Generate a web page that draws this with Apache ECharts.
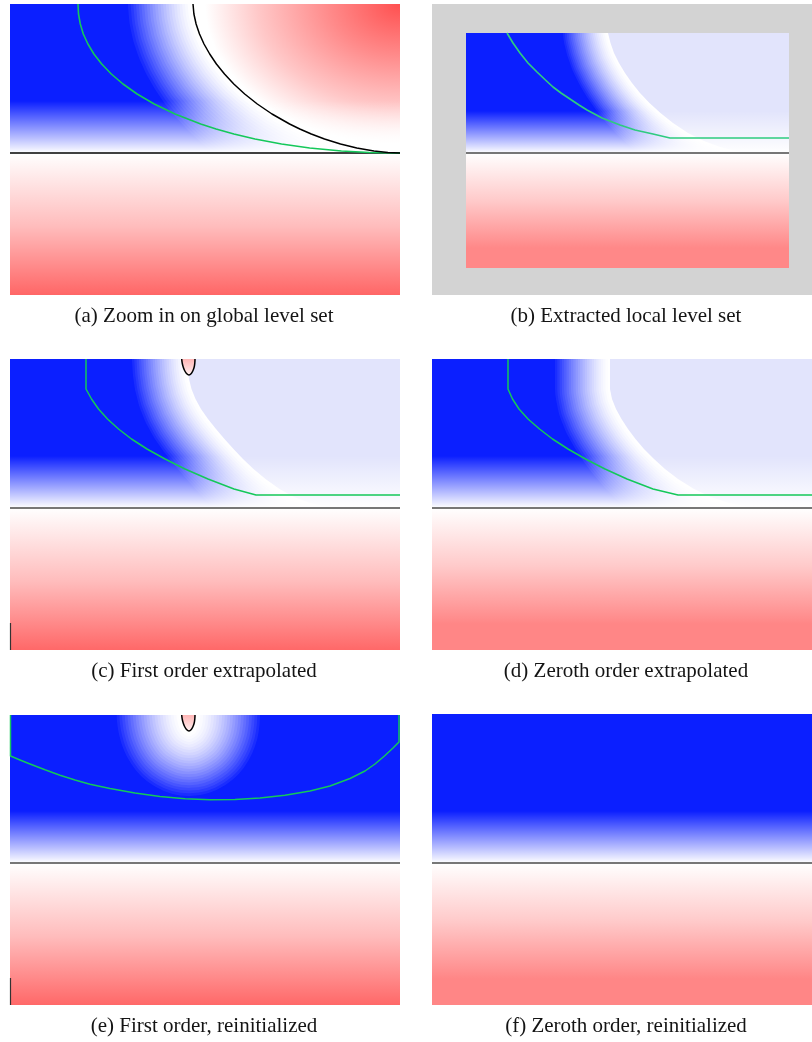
<!DOCTYPE html>
<html>
<head>
<meta charset="utf-8">
<script src="https://cdn.jsdelivr.net/npm/echarts@6/dist/echarts.min.js"></script>
<style>
  html, body { margin: 0; padding: 0; background: #ffffff; }
  #chart { width: 812px; height: 1042px; }
</style>
</head>
<body>
<div id="chart"></div>
<script>
// Axis ranges of the six level-set views (field units: 1 unit ~ 1 px of the left column)
const panelXMax = [390, 323, 390, 380, 390, 380];
const panelYMin = [-142, -115, -142, -142, -142, -142];
const panelYMax = [149, 120, 149, 149, 148, 149];

// Height of the blue ramp above the flat interface (phi = 0 at y = 0)
const zeroRamp = [52, 42, 52, 52, 52, 52];
// Depth below the interface where the positive side saturates (null: no cut-off)
const redSaturation = [null, -91, null, -112, null, -112];
// Half-width of the ramp beside curved contours
const curveRamp = [65, 45, 55, 55, 65, 0];

// (a) global level set: curved zero contour and narrow-band edge
const aInterface = [[183,149],[183.9,139],[186.1,129],[189.5,119],[194,109],[199.7,99],[206.4,89],[214.5,79],[223.8,69],[234.7,59],[247.3,49],[262,39],[279.6,29],[289.8,24],[301.3,19],[314.5,14],[330.5,9],[346.8,5],[363.9,2],[377.9,0.5],[390,0]];
const aBandEdge = [[68,149],[68.5,139],[70.3,129],[73.3,119],[77.9,109],[83.9,99],[91.7,89],[101.3,79],[113,69],[127.1,59],[144.2,49],[165,39],[190.7,29],[206.1,24],[223.9,19],[245,14],[271.5,9],[299.7,5],[331.4,2],[359.6,0.5],[390,0]];

// (b) extracted local level set: edge of the constant plateau and band edge
const bPlateau = [[142,120],[144.5,110],[148,100],[153,90],[159,80],[166,70],[174,60],[183.5,50],[194.5,40],[207,30],[222,20],[238,12],[254,6],[270,2],[285,0]];
const bBandEdge = [[41,120],[47,110],[54,100],[62,90],[71,81],[80.5,72],[87,66],[95,60],[104,54],[113,48],[121,43],[136,35],[154,28],[169,23],[187,19],[204,15],[323,15]];

// (c) first order extrapolated
const cPlateau = [[177,149],[177.6,139],[179,129],[181.5,119],[185.5,109],[191,99],[198,89],[206,79],[214.5,69],[223.5,59],[233,49],[243.5,39],[255.5,29],[269.5,19],[284,11],[300,5],[318,1],[330,0]];
const cBandEdge = [[76,149],[76,119],[81.5,109],[88.5,99],[97.5,89],[108.5,79],[121.5,69],[137,59],[155,49],[175,39],[198,29],[224,19],[246,13],[390,13]];
const cDrop = [[171.7,149],[172.2,145],[173.2,141],[174.6,137.5],[176.5,134.5],[179,133],[181.3,134.5],[183,137.5],[184.2,141],[184.8,145],[185,149]];

// (d) zeroth order extrapolated
const dPlateau = [[178,149],[178,119],[180,109],[184,99],[189.5,89],[196,79],[203.5,69],[212,59],[222,49],[233,39],[246,29],[262,19],[279,11],[297,5],[317,1],[330,0]];
const dBandEdge = [[76,149],[76,119],[80.5,109],[87,99],[96,89],[107.5,79],[120.5,69],[136,59],[153.5,49],[173,39],[195,29],[221,19],[246,13],[380,13]];

// (e) first order, reinitialized
const eBandEdge = [[0.5,148],[0.5,107],[10,103],[20,99],[35,93.2],[50,87.8],[65,83],[80,78.8],[100,74.5],[125,70],[150,66.5],[175,64.3],[200,63.2],[225,63.5],[250,65],[275,67.8],[300,72],[320,77],[340,84.5],[355,92],[365,99],[375,107.5],[383,115],[389,121],[389,148]];
const eDrop = [[171.7,148],[172.2,144],[173.2,140],[174.6,136.5],[176.5,133.5],[179,132],[181.3,133.5],[183,136.5],[184.2,140],[184.8,144],[185,148]];

// short contour piece on the left boundary of (c) and (e)
const edgeTick = [[0.5,-115],[0.5,-142]];

const captions = [
  '(a) Zoom in on global level set',
  '(b) Extracted local level set',
  '(c) First order extrapolated',
  '(d) Zeroth order extrapolated',
  '(e) First order, reinitialized',
  '(f) Zeroth order, reinitialized'
];

const BLUE = '#0b1fff';
const LAVENDER = '#e2e4fc';
const GREEN = '#14c85a';
const LG = echarts.graphic.LinearGradient;
const RG = echarts.graphic.RadialGradient;

const gridBoxes = [
  { left: 10,  top: 4,   width: 390, height: 291 },
  { left: 466, top: 33,  width: 323, height: 235 },
  { left: 10,  top: 359, width: 390, height: 291 },
  { left: 432, top: 359, width: 380, height: 291 },
  { left: 10,  top: 715, width: 390, height: 290 },
  { left: 432, top: 714, width: 380, height: 291 }
];

function box(api, x0, y0, x1, y1, fill) {
  const a = api.coord([x0, y0]), b = api.coord([x1, y1]);
  return { type: 'rect', shape: { x: Math.min(a[0], b[0]), y: Math.min(a[1], b[1]),
    width: Math.abs(b[0] - a[0]), height: Math.abs(b[1] - a[1]) }, style: { fill } };
}

// Distance ramp beside a contour: stacked round-joined strokes whose
// combined opacity falls from 1 on the contour to 0 at `band`.
function ramp(api, pts, band, p, n) {
  const points = pts.map(q => api.coord(q));
  const w = api.size([band, 0])[0];
  const out = [];
  for (let j = n; j >= 1; j--) {
    out.push({ type: 'polyline', shape: { points },
      style: { stroke: '#ffffff', fill: 'none', lineWidth: 2 * w * j / n,
        opacity: 1 - Math.pow((j - 1) / j, p), lineJoin: 'round', lineCap: 'round' } });
  }
  return out;
}

function negativeSide(api, i) { return box(api, 0, 0, panelXMax[i] + 5, panelYMax[i] + 5, BLUE); }

function interfaceRamp(api, i) {
  return box(api, 0, 0, panelXMax[i] + 5, zeroRamp[i], new LG(0, 0, 0, 1, [
    { offset: 0, color: 'rgba(255,255,255,0)' },
    { offset: 0.5, color: 'rgba(255,255,255,0.5)' },
    { offset: 1, color: 'rgba(255,255,255,1)' }]));
}

function positiveSide(api, i, deep) {
  const s = redSaturation[i];
  const stops = s == null
    ? [{ offset: 0, color: '#ffffff' }, { offset: 0.5, color: '#ffbcbc' }, { offset: 1, color: deep }]
    : [{ offset: 0, color: '#ffffff' }, { offset: 0.5 * s / panelYMin[i], color: '#ffcaca' },
       { offset: s / panelYMin[i], color: deep }, { offset: 1, color: deep }];
  return box(api, 0, panelYMin[i] - 5, panelXMax[i] + 5, 0, new LG(0, 0, 0, 1, stops));
}

function plateau(api, i, edge) {
  const xm = panelXMax[i] + 10, ym = panelYMax[i] + 10;
  const pts = edge.concat([[xm, 0], [xm, ym], [edge[0][0], ym]]);
  return { type: 'polygon', shape: { points: pts.map(q => api.coord(q)) }, style: { fill: LAVENDER } };
}

// Positive cap of (a): region enclosed by the curved contour, shaded
// with an elliptical ramp centred on the top-right corner.
function positiveCap(api, i, edge) {
  const center = [panelXMax[i], panelYMax[i]];
  const c = api.coord(center);
  const r = api.size([203, 146]);
  const local = edge.map(q => { const p = api.coord(q); return [(p[0] - c[0]) / r[0], (p[1] - c[1]) / r[1]]; });
  local.push([0, 0]);
  return { type: 'polygon', x: c[0], y: c[1], scaleX: r[0], scaleY: r[1], shape: { points: local },
    style: { fill: new RG(0, 0, 1, [
      { offset: 0, color: '#ff5050' }, { offset: 0.35, color: '#ff8a8a' },
      { offset: 0.7, color: '#ffc8c8' }, { offset: 0.96, color: '#ffffff' }, { offset: 1, color: '#ffffff' }], true) } };
}

const fieldBuilders = [
  api => [negativeSide(api, 0), ...ramp(api, aInterface, curveRamp[0], 1.5, 24), positiveCap(api, 0, aInterface),
          interfaceRamp(api, 0), positiveSide(api, 0, '#ff6060')],
  api => [negativeSide(api, 1), ...ramp(api, bPlateau, curveRamp[1], 1.5, 24), plateau(api, 1, bPlateau),
          interfaceRamp(api, 1), positiveSide(api, 1, '#ff8888')],
  api => [negativeSide(api, 2), ...ramp(api, cPlateau, curveRamp[2], 1.5, 24), plateau(api, 2, cPlateau),
          interfaceRamp(api, 2), positiveSide(api, 2, '#ff6262')],
  api => [negativeSide(api, 3), ...ramp(api, dPlateau, curveRamp[3], 1.5, 24), plateau(api, 3, dPlateau),
          interfaceRamp(api, 3), positiveSide(api, 3, '#ff8686')],
  api => [negativeSide(api, 4), ...ramp(api, eDrop.concat([eDrop[0]]), curveRamp[4], 1.6, 24),
          interfaceRamp(api, 4), positiveSide(api, 4, '#ff6262')],
  api => [negativeSide(api, 5), interfaceRamp(api, 5), positiveSide(api, 5, '#ff8686')]
];

const series = [];
fieldBuilders.forEach((build, i) => {
  series.push({ type: 'custom', coordinateSystem: 'cartesian2d', xAxisIndex: i, yAxisIndex: i,
    clip: true, silent: true, z: 1, data: [[0, 0]],
    renderItem: (params, api) => ({ type: 'group', children: build(api) }) });
});

function contour(i, data, color, width, z) {
  series.push({ type: 'line', xAxisIndex: i, yAxisIndex: i, data, symbol: 'none', showSymbol: false,
    clip: true, silent: true, z, smooth: false, lineStyle: { color, width, join: 'round' } });
}

// flat interface phi = 0
panelXMax.forEach((xm, i) => contour(i, [[0, 0], [xm, 0]], i === 0 ? '#000000' : '#4a4a4a', i === 0 ? 1.5 : 1.7, 3));
contour(0, aBandEdge, GREEN, 1.6, 4);
contour(0, aInterface, '#000000', 1.5, 4);
contour(1, bBandEdge, '#2ecb80', 1.7, 4);
contour(2, cBandEdge, GREEN, 1.5, 4);
contour(3, dBandEdge, GREEN, 1.5, 4);
contour(4, eBandEdge, GREEN, 1.5, 4);
contour(2, edgeTick, '#333333', 1.2, 4);
contour(4, edgeTick, '#333333', 1.2, 4);

// small positive pocket cut by the top boundary in (c) and (e)
function pocket(i, pts) {
  series.push({ type: 'custom', coordinateSystem: 'cartesian2d', xAxisIndex: i, yAxisIndex: i,
    clip: true, silent: true, z: 5, data: [[0, 0]],
    renderItem: (params, api) => {
      const points = pts.map(q => api.coord(q));
      return { type: 'group', children: [
        { type: 'polygon', shape: { points, smooth: 0.4 }, style: { fill: new LG(0, 0, 0, 1, [
          { offset: 0, color: '#ffb2b2' }, { offset: 1, color: '#fff0f0' }]) } },
        { type: 'polyline', shape: { points, smooth: 0.4 }, style: { stroke: '#000000', fill: 'none', lineWidth: 1.5 } }
      ] };
    } });
}
pocket(2, cDrop);
pocket(4, eDrop);

const captionX = [204, 626];
const captionY = [316, 671, 1026];

const option = {
  animation: false,
  backgroundColor: '#ffffff',
  grid: gridBoxes.map(g => Object.assign({ containLabel: false, outerBoundsMode: 'none', show: false }, g)),
  xAxis: panelXMax.map((m, i) => ({ type: 'value', gridIndex: i, min: 0, max: m, show: false })),
  yAxis: panelYMax.map((m, i) => ({ type: 'value', gridIndex: i, min: panelYMin[i], max: m, show: false })),
  graphic: [
    { type: 'rect', z: 0, silent: true, shape: { x: 432, y: 4, width: 380, height: 291 }, style: { fill: '#d3d3d3' } }
  ].concat(captions.map((t, k) => ({
    type: 'text', z: 10, silent: true, x: captionX[k % 2], y: captionY[Math.floor(k / 2)],
    style: { text: t, font: '21px "Liberation Serif", "DejaVu Serif", serif', fill: '#141414',
      textAlign: 'center', textVerticalAlign: 'middle', align: 'center', verticalAlign: 'middle' }
  }))),
  series
};

const chart = echarts.init(document.getElementById('chart'), null, { renderer: 'canvas', width: 812, height: 1042 });
chart.setOption(option);
</script>
</body>
</html>
